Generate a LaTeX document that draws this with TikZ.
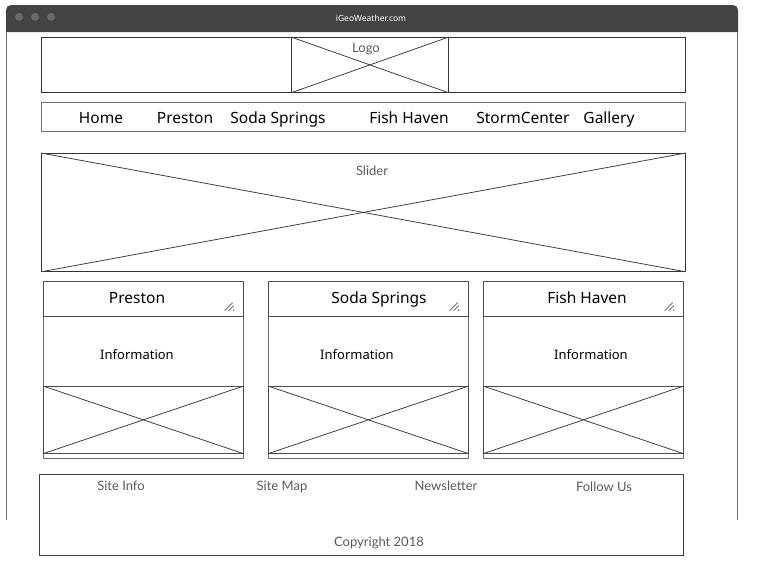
\documentclass[tikz,border=0pt]{standalone}
\usepackage{fontspec}
\setmainfont{Noto Sans}
\newfontfamily\lblfont{Lato}
\usetikzlibrary{positioning}
\definecolor{barcol}{HTML}{444444}
\definecolor{dotcol}{HTML}{6A6A6A}
\definecolor{lblcol}{HTML}{595959}
\definecolor{edgecol}{HTML}{6E6E6E}
\tikzset{
  box/.style = {draw = black!80, line width = .8pt, inner sep = 0pt, anchor = north west},
  cardbox/.style = {draw = edgecol, line width = 1.3pt, inner sep = 0pt, anchor = north west},
  cross/.style = {draw = black!75, line width = .8pt},
  big/.style = {font = \fontsize{15.5}{18}\selectfont, anchor = base},
  mid/.style = {font = \fontsize{13}{15}\selectfont, anchor = base},
  lbl/.style = {font = \lblfont\fontsize{13}{15}\selectfont, text = lblcol, anchor = base}
}
\begin{document}
\begin{tikzpicture}[x = 1pt, y = -1pt]
\useasboundingbox (0,0) rectangle (757,584);
% window
\fill [barcol] (6,32) [rounded corners = 5pt] -- (6,5) -- (738,5) [sharp corners] -- (738,32) -- cycle;
\draw [edgecol, line width = 1pt] (6.5,32) -- (6.5,520);
\draw [edgecol, line width = 1pt] (737,32) -- (737,520);
\foreach \x in {19,35,51}
  \fill [dotcol] (\x,17) circle (4pt);
\node [text = white, anchor = base, font = \fontsize{8.5}{10}\selectfont] (title) at (371,21) {iGeoWeather.com};
% header
\node [box, minimum width = 644pt, minimum height = 55pt] (head) at (41,37) {};
\node [box, minimum width = 157pt, minimum height = 55pt] (logo) at (291,37) {};
\draw [cross] (logo.north west) -- (logo.south east);
\draw [cross] (logo.south west) -- (logo.north east);
\node [lbl] (lg) at (366,52) {Logo};
% navigation
\node [box, draw = edgecol, minimum width = 644pt, minimum height = 29pt] (nav) at (41,102) {};
\node [big] (n1) at (101,123) {Home};
\node [big] (n2) at (185,123) {Preston};
\node [big] (n3) at (278,123) {Soda Springs};
\node [big] (n4) at (409,123) {Fish Haven};
\node [big] (n5) at (523,123) {StormCenter};
\node [big] (n6) at (609,123) {Gallery};
% slider
\node [box, minimum width = 644pt, minimum height = 118pt] (slider) at (41,153) {};
\draw [cross] (slider.north west) -- (slider.south east);
\draw [cross] (slider.south west) -- (slider.north east);
\node [lbl] (sl) at (372,175) {Slider};
% cards
\foreach \i/\x/\t/\a/\b in {1/43/Preston/137/137, 2/268/Soda Springs/379/357, 3/483/Fish Haven/587/591}{
  \node [cardbox, minimum width = 200pt, minimum height = 177pt] (card\i) at (\x,281) {};
  \node [box, draw = black!70, line width = .7pt, minimum width = 200pt, minimum height = 35pt] (top\i) at (\x,281) {};
  \node [box, draw = black!70, line width = .7pt, minimum width = 200pt, minimum height = 67pt] (img\i) at (\x,386) {};
  \draw [cross] (img\i.north west) -- (img\i.south east);
  \draw [cross] (img\i.south west) -- (img\i.north east);
  \node [big] (t\i) at (\a,303.5) {\t};
  \node [mid] (info\i) at (\b,359) {Information};
  \draw [lblcol, line width = .6pt] ([xshift = -19pt, yshift = 6pt]top\i.south east) -- ++(8,-8);
  \draw [lblcol, line width = .6pt] ([xshift = -15pt, yshift = 6pt]top\i.south east) -- ++(5,-5);
  \fill [lblcol] ([xshift = -10pt, yshift = 6.5pt]top\i.south east) circle (.8pt);
}
% footer
\node [box, draw = black!75, minimum width = 644pt, minimum height = 81pt] (foot) at (39,474) {};
\node [lbl] (f1) at (121,490) {Site Info};
\node [lbl] (f2) at (282,490) {Site Map};
\node [lbl] (f3) at (446,490) {Newsletter};
\node [lbl] (f4) at (604,491) {Follow Us};
\node [lbl] (cp) at (379,546) {Copyright 2018};
\end{tikzpicture}
\end{document}
